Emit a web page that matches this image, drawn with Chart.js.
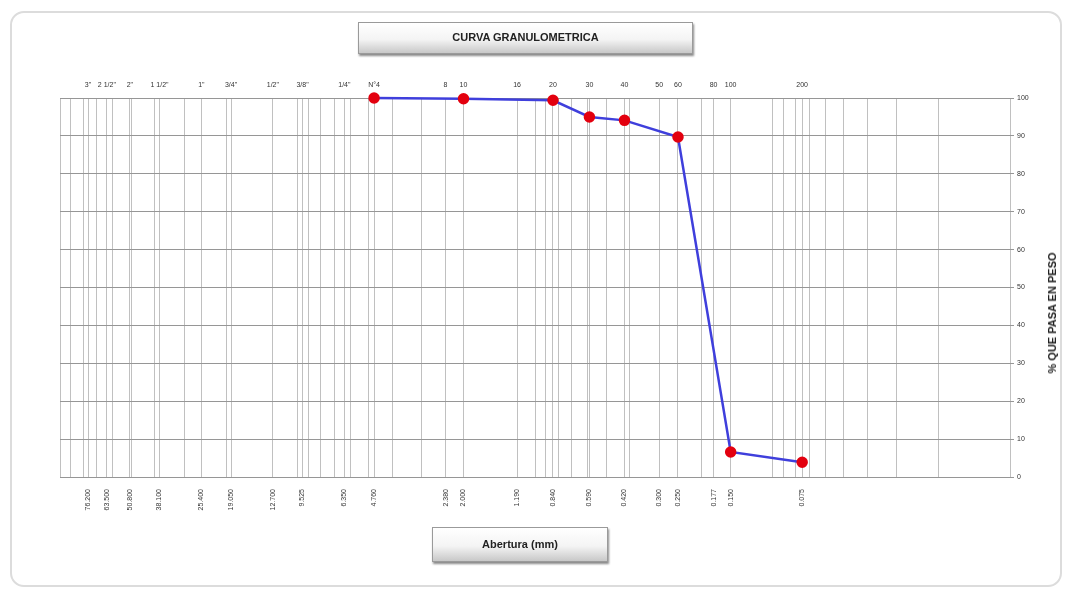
<!DOCTYPE html>
<html lang="es">
<head>
    <meta charset="UTF-8">
    <title>Curva Granulometrica</title>
    <script src="https://cdn.jsdelivr.net/npm/chart.js"></script>
    <style>
        body { margin: 0; background: #fff; font-family: "Liberation Sans", Arial, sans-serif; }
        #wrap { position: relative; width: 1067px; height: 590px; overflow: hidden; }
        #frame { position: absolute; left: 10px; top: 11px; width: 1048px; height: 572px;
                 border: 2px solid #dcdcdc; border-radius: 14px; }
        canvas { position: absolute; left: 0; top: 0; }
        .box { position: absolute; border: 1px solid #9a9a9a; text-align: center; font-weight: bold;
               background: linear-gradient(#ffffff, #f4f4f4 55%, #c8c8c8);
               box-shadow: 1px 2px 2px #8a8a8a; color: #222; }
        #title { left: 358px; top: 22px; width: 333px; height: 30px; line-height: 28px; font-size: 11px; }
        #xtitle { left: 432px; top: 527px; width: 174px; height: 33px; line-height: 33px; font-size: 11px; }
        #ytitle { position: absolute; left: 1052px; top: 313px; transform: translate(-50%, -50%) rotate(-90deg);
                  white-space: nowrap; font-weight: bold; font-size: 11px; color: #222; }
    </style>
</head>
<body>
<div id="wrap">
    <div id="frame"></div>
    <canvas id="chart" width="1067" height="590"></canvas>
    <div class="box" id="title">CURVA GRANULOMETRICA</div>
    <div class="box" id="xtitle">Abertura (mm)</div>
    <div id="ytitle">% QUE PASA EN PESO</div>
</div>

<script>
    // tamices (nombre arriba, abertura abajo)
    const sieveNames = ['3"', '2 1/2"', '2"', '1 1/2"', '1"', '3/4"', '1/2"', '3/8"', '1/4"', 'N°4',
                        '8', '10', '16', '20', '30', '40', '50', '60', '80', '100', '200'];
    const sieveMm = [76.2, 63.5, 50.8, 38.1, 25.4, 19.05, 12.7, 9.525, 6.35, 4.76,
                     2.38, 2.0, 1.19, 0.84, 0.59, 0.42, 0.3, 0.25, 0.177, 0.15, 0.075];
    const sieveLabels = ['76.200', '63.500', '50.800', '38.100', '25.400', '19.050', '12.700', '9.525', '6.350', '4.760',
                         '2.380', '2.000', '1.190', '0.840', '0.590', '0.420', '0.300', '0.250', '0.177', '0.150', '0.075'];

    // ensayo
    const testMm = [4.76, 2.0, 0.84, 0.59, 0.42, 0.25, 0.15, 0.075];
    const passing = [100, 99.8, 99.4, 95.0, 94.1, 89.7, 6.6, 3.9];

    const yTicks = [0, 10, 20, 30, 40, 50, 60, 70, 80, 90, 100];

    // lineas de la grilla log (1..9 por decada) + tamices
    let gridMm = [];
    [10, 1, 0.1, 0.01].forEach(d => {
        for (let k = 1; k <= 9; k++) gridMm.push(+(d * k).toPrecision(4));
    });
    gridMm.push(100);
    sieveMm.forEach(v => { if (!gridMm.includes(v)) gridMm.push(v); });
    gridMm.sort((a, b) => a - b);

    const font = { family: '"Liberation Sans", Arial, sans-serif', size: 7 };

    new Chart(document.getElementById('chart'), {
        type: 'line',
        data: {
            datasets: [{
                data: testMm.map((x, i) => ({ x: x, y: passing[i] })),
                borderColor: '#3f3fdc',
                borderWidth: 2.5,
                pointBackgroundColor: '#e3000f',
                pointBorderColor: '#e3000f',
                pointRadius: 4.5,
                tension: 0,
                clip: false
            }]
        },
        options: {
            responsive: false,
            animation: false,
            layout: { padding: { left: 60, top: 0, right: 0, bottom: 0 } },
            plugins: { legend: { display: false }, tooltip: { enabled: false } },
            scales: {
                x: {
                    type: 'logarithmic',
                    position: 'bottom',
                    min: 0.01, max: 100,
                    reverse: true,
                    afterBuildTicks: s => { s.ticks = gridMm.map(v => ({ value: v })); },
                    afterFit: s => { s.height = 113; },
                    border: { display: false },
                    grid: { color: '#c0c0c0', lineWidth: 1, drawTicks: false },
                    ticks: {
                        autoSkip: false, minRotation: 90, maxRotation: 90, padding: 12,
                        font: font, color: '#333',
                        callback: v => { const i = sieveMm.indexOf(v); return i >= 0 ? sieveLabels[i] : ''; }
                    }
                },
                xTop: {
                    type: 'logarithmic',
                    position: 'top',
                    min: 0.01, max: 100,
                    reverse: true,
                    afterBuildTicks: s => { s.ticks = sieveMm.map(v => ({ value: v })); },
                    afterFit: s => { s.height = 98; },
                    border: { display: false },
                    grid: { display: false },
                    ticks: {
                        autoSkip: false, maxRotation: 0, minRotation: 0, padding: 1,
                        font: font, color: '#333',
                        callback: v => { const i = sieveMm.indexOf(v); return i >= 0 ? sieveNames[i] : ''; }
                    }
                },
                y: {
                    position: 'right',
                    min: 0, max: 100,
                    afterBuildTicks: s => { s.ticks = yTicks.map(v => ({ value: v })); },
                    afterFit: s => { s.width = 57; },
                    border: { display: false },
                    grid: { color: '#969696', lineWidth: 1, tickLength: 4 },
                    ticks: { font: font, color: '#333', padding: 3 }
                }
            }
        }
    });
</script>
</body>
</html>
